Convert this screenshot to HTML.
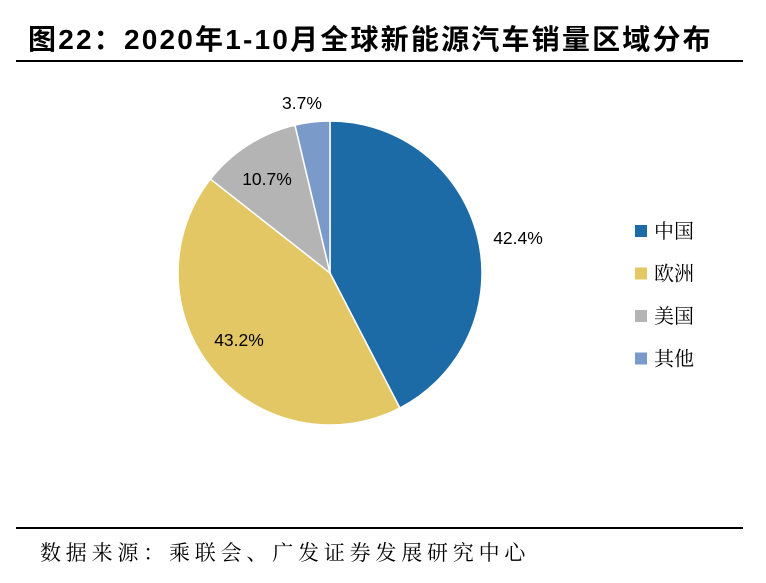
<!DOCTYPE html>
<html><head><meta charset="utf-8"><style>
body{margin:0;background:#fff;width:766px;height:583px;overflow:hidden;position:relative;font-family:"Liberation Sans","Noto Sans CJK SC",sans-serif}
.t{position:absolute;white-space:nowrap}
</style></head><body>
<div class="t" style="left:28px;top:18px;font-size:28px;font-weight:bold;letter-spacing:2.2px">图22：2020年1-10月全球新能源汽车销量区域分布</div>
<div style="position:absolute;left:16px;top:60px;width:727px;height:1.5px;background:#000"></div>
<svg id="chart" width="766" height="583" style="position:absolute;left:0;top:0"></svg>
<div style="position:absolute;left:16px;top:527px;width:727px;height:1.5px;background:#000"></div>
<div class="t" style="left:40px;top:537px;font-size:21px;letter-spacing:4.8px;font-family:'Noto Serif CJK SC',serif">数据来源：乘联会、广发证券发展研究中心</div>
<script>
const categories=["中国","欧洲","美国","其他"];
const values=[42.4,43.2,10.7,3.7];
const labels=["42.4%","43.2%","10.7%","3.7%"];
const colors=["#1c6aa6","#e3c764","#b4b4b4","#7a9bca"];
const labelPos=[[518,238],[239,340],[267,179],[302,103]];
const svg=document.getElementById('chart');const NS="http://www.w3.org/2000/svg";
const cx=330,cy=273,r=152;const total=values.reduce((a,b)=>a+b,0);
let a0=-Math.PI/2;
values.forEach((v,i)=>{
 const a1=a0+v/total*2*Math.PI;
 const x0=cx+r*Math.cos(a0),y0=cy+r*Math.sin(a0),x1=cx+r*Math.cos(a1),y1=cy+r*Math.sin(a1);
 const p=document.createElementNS(NS,'path');
 p.setAttribute('d',`M${cx},${cy}L${x0},${y0}A${r},${r} 0 ${a1-a0>Math.PI?1:0} 1 ${x1},${y1}Z`);
 p.setAttribute('fill',colors[i]);p.setAttribute('stroke','#fff');p.setAttribute('stroke-width','1.5');
 
 
 svg.appendChild(p);
 const t=document.createElementNS(NS,'text');
 t.setAttribute('x',labelPos[i][0]);t.setAttribute('y',labelPos[i][1]+6);t.setAttribute('text-anchor','middle');
 t.setAttribute('font-size','17.5');t.setAttribute('font-family','Liberation Sans, sans-serif');t.textContent=labels[i];
 
 
 svg.appendChild(t);
 const ly=231+i*42.5;
 const s=document.createElementNS(NS,'rect');
 s.setAttribute('x',635);s.setAttribute('y',ly-6);s.setAttribute('width',12);s.setAttribute('height',12);s.setAttribute('fill',colors[i]);
 
 
 svg.appendChild(s);
 const lt=document.createElementNS(NS,'text');
 lt.setAttribute('x',654);lt.setAttribute('y',ly+7);lt.setAttribute('font-size','20');
 lt.setAttribute('font-family','Noto Serif CJK SC, serif');lt.textContent=categories[i];
 
 
 svg.appendChild(lt);
 a0=a1;
});
</script>
</body></html>
